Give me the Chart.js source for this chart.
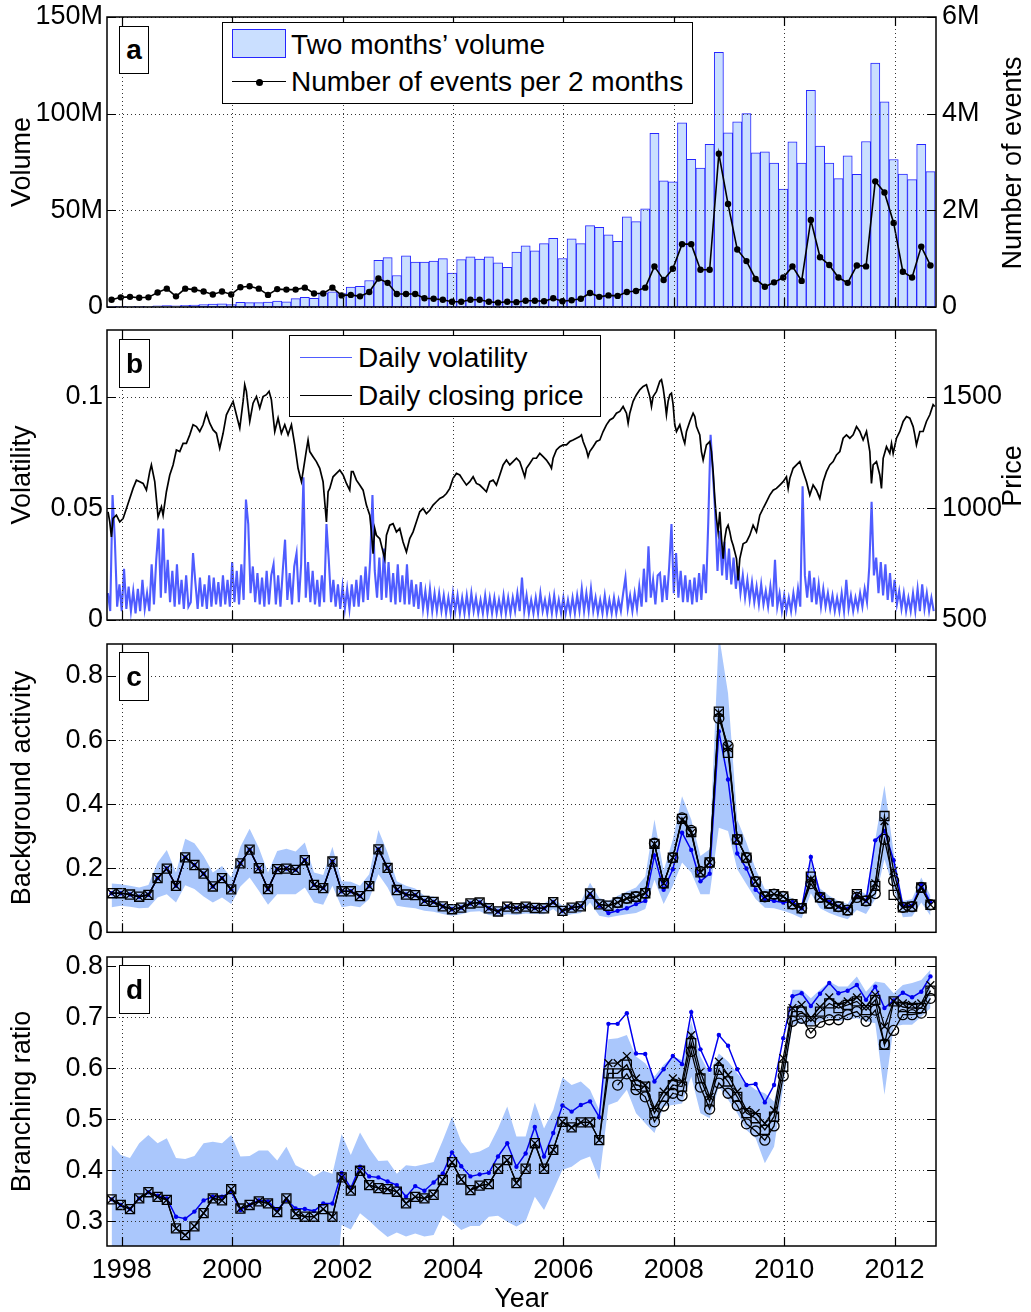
<!DOCTYPE html>
<html>
<head>
<meta charset="utf-8">
<title>Volume, volatility, background activity and branching ratio</title>
<script src="https://cdn.jsdelivr.net/npm/chart.js@4.4.1/dist/chart.umd.min.js"></script>
<style>
html,body{margin:0;padding:0;background:#fff}
#wrap{position:relative;width:1031px;height:1312px;overflow:hidden;font-family:"Liberation Sans",Arial,Helvetica,sans-serif;color:#000}
canvas{position:absolute;left:0}
.tag{position:absolute;left:119px;box-sizing:border-box;border:1.5px solid #000;background:#fff;font-weight:bold;font-size:28px;display:flex;align-items:center;justify-content:center;z-index:5}
.legbox{position:absolute;box-sizing:border-box;border:1.5px solid #000;background:#fff;z-index:5}
.lt{position:absolute;font-size:28px;line-height:28px;white-space:nowrap;z-index:6}
.ln{position:absolute;height:0;z-index:6}
.rt{position:absolute;font-size:27px;line-height:27px;white-space:nowrap;transform:translate(-50%,-50%) rotate(-90deg);z-index:6}
</style>
</head>
<body>
<div id="wrap">
<canvas id="cA" width="1031" height="320" style="top:0px"></canvas>
<canvas id="cB" width="1031" height="310" style="top:320px"></canvas>
<canvas id="cC" width="1031" height="310" style="top:630px"></canvas>
<canvas id="cD" width="1031" height="376" style="top:940px"></canvas>

<div class="legbox" style="left:222px;top:22px;width:471px;height:82px"></div>
<div style="position:absolute;left:232px;top:29px;width:54px;height:29px;box-sizing:border-box;background:#cadfff;border:1.3px solid #2626ff;z-index:6"></div>
<div class="lt" style="left:291px;top:31px">Two months’ volume</div>
<div class="ln" style="left:232px;top:81px;width:54px;border-top:1.5px solid #000"></div>
<div style="position:absolute;left:255.5px;top:78.5px;width:7px;height:7px;border-radius:50%;background:#000;z-index:7"></div>
<div class="lt" style="left:291px;top:68px">Number of events per 2 months</div>

<div class="legbox" style="left:289px;top:335px;width:312px;height:82px"></div>
<div class="ln" style="left:300px;top:356.5px;width:52px;border-top:1.3px solid #4f5cff"></div>
<div class="lt" style="left:358px;top:344px">Daily volatility</div>
<div class="ln" style="left:300px;top:394.5px;width:52px;border-top:1.3px solid #000"></div>
<div class="lt" style="left:358px;top:382px">Daily closing price</div>

<div class="tag" style="top:26px;width:30px;height:48px">a</div>
<div class="tag" style="top:339px;width:31px;height:49px">b</div>
<div class="tag" style="top:652px;width:30px;height:49px">c</div>
<div class="tag" style="top:965px;width:31px;height:49px">d</div>

<div class="rt" style="left:1012px;top:163px">Number of events</div>
<div class="rt" style="left:1012px;top:476px">Price</div>
</div>

<script>
// ---------------- DATA ----------------
const yearTicks = [1998, 2000, 2002, 2004, 2006, 2008, 2010, 2012];
const X_MIN = 1997.733, X_MAX = 2012.75;
const BIN_START = 1997.733, BIN_WIDTH = 1 / 6;   // two-month bins

// Panel a: two months' volume (millions) and number of events per 2 months (millions)
const volumeM = [0.3,0.3,0.4,0.3,0.4,0.6,0.7,0.6,0.9,1.0,1.2,1.5,1.6,1.3,2.4,2.3,2.3,2.5,3.1,2.7,4.3,5.0,4.5,7.3,7.8,7.0,10.3,10.7,13.7,24.1,25.5,16.3,26.5,23.2,23.2,23.7,25.0,17.5,24.5,26.0,24.8,26.0,22.9,20.5,28.4,
  31.7,29.1,32.8,35.5,25.1,35.2,32.8,42.1,41.2,37.3,34.0,46.6,44.2,50.8,89.8,65.3,64.8,95.3,76.4,71.8,84.1,131.7,90.1,95.8,100,79.7,80.2,74.5,61.0,85.4,74.5,112.1,83.2,74.4,66.4,78.2,68.6,85.6,126.2,106.1,76.3,68.8,65.9,84.2,70.0];
const eventsM = [0.15,0.20,0.21,0.19,0.20,0.30,0.38,0.22,0.38,0.36,0.32,0.26,0.32,0.26,0.41,0.43,0.38,0.25,0.37,0.36,0.36,0.40,0.28,0.28,0.40,0.24,0.25,0.22,0.31,0.59,0.50,0.27,0.27,0.27,0.18,0.17,0.15,0.11,0.11,0.15,0.15,0.11,0.09,0.11,0.10,
  0.13,0.13,0.12,0.18,0.12,0.14,0.17,0.29,0.21,0.24,0.23,0.31,0.33,0.40,0.84,0.56,0.79,1.30,1.30,0.77,0.77,3.17,2.13,1.19,0.95,0.58,0.42,0.51,0.61,0.84,0.54,1.80,1.03,0.87,0.61,0.50,0.86,0.84,2.60,2.37,1.74,0.73,0.61,1.25,0.86];

// Panel b: daily closing price
const priceYears = [1997.752,1997.783,1997.813,1997.843,1997.903,1997.964,1998.024,1998.085,1998.145,1998.205,1998.266,1998.326,1998.387,1998.447,1998.507,1998.537,1998.598,1998.658,1998.719,1998.749,1998.809,1998.870,1998.930,1998.990,1999.051,1999.111,1999.171,1999.232,1999.292,1999.353,1999.413,1999.473,1999.534,1999.594,1999.655,1999.715,1999.775,1999.836,1999.896,1999.956,2000.017,2000.077,2000.138,2000.198,2000.228,2000.258,2000.319,2000.379,2000.440,2000.500,2000.560,2000.621,2000.669,2000.711,2000.772,2000.832,2000.892,2000.953,2001.013,2001.074,2001.134,2001.194,2001.255,2001.285,2001.345,2001.375,2001.406,2001.466,2001.526,2001.587,2001.647,2001.677,2001.708,2001.738,2001.768,2001.828,2001.889,2001.949,2002.010,2002.070,2002.130,2002.160,2002.191,2002.251,2002.311,2002.372,2002.432,2002.493,2002.523,2002.553,2002.583,2002.613,2002.674,2002.734,2002.764,2002.795,2002.855,2002.915,2002.976,2003.036,2003.096,2003.157,2003.217,2003.278,2003.338,2003.398,2003.459,2003.519,2003.580,2003.640,2003.700,2003.761,2003.821,2003.882,2003.942,2004.002,2004.063,2004.123,2004.183,2004.244,2004.304,2004.365,2004.425,2004.485,2004.546,2004.606,2004.667,2004.727,2004.787,2004.848,2004.908,2004.969,2005.029,2005.089,2005.150,2005.210,
  2005.271,2005.301,2005.331,2005.391,2005.452,2005.512,2005.573,2005.633,2005.693,2005.754,2005.784,2005.814,2005.874,2005.935,2005.995,2006.056,2006.116,2006.176,2006.237,2006.297,2006.327,2006.358,2006.418,2006.448,2006.478,2006.539,2006.599,2006.660,2006.720,2006.780,2006.841,2006.901,2006.961,2007.022,2007.082,2007.143,2007.173,2007.203,2007.263,2007.324,2007.384,2007.445,2007.505,2007.565,2007.596,2007.626,2007.686,2007.747,2007.777,2007.807,2007.837,2007.867,2007.897,2007.928,2007.958,2007.988,2008.018,2008.049,2008.109,2008.169,2008.199,2008.230,2008.290,2008.350,2008.381,2008.411,2008.471,2008.501,2008.532,2008.592,2008.652,2008.682,2008.713,2008.743,2008.773,2008.803,2008.833,2008.864,2008.894,2008.924,2008.954,2008.984,2009.015,2009.045,2009.075,2009.136,2009.166,2009.196,2009.256,2009.317,2009.377,2009.437,2009.498,2009.558,2009.619,2009.679,2009.739,2009.800,2009.860,2009.921,2009.981,2010.041,2010.072,2010.102,2010.162,2010.223,2010.283,2010.343,2010.404,2010.464,2010.524,2010.585,2010.645,2010.706,2010.766,2010.826,2010.887,2010.947,2011.008,2011.068,2011.128,2011.189,2011.249,2011.310,2011.370,2011.430,2011.491,2011.551,2011.581,2011.611,2011.672,2011.732,2011.762,2011.793,2011.853,2011.913,2011.944,2011.974,2012.034,2012.095,2012.155,2012.215,2012.276,2012.336,2012.366,2012.396,2012.457,2012.517,2012.577,2012.638,2012.698,2012.728];
const price = [985,940,872,955,970,940,955,1000,1045,1090,1127,1120,1112,1082,1165,1195,1120,962,1007,970,1075,1150,1195,1262,1255,1292,1292,1330,1375,1367,1345,1375,1427,1382,1352,1337,1270,1337,1420,1450,1480,1420,1360,1480,1555,1525,1390,1472,1502,1450,1502,1510,1525,1487,1345,1405,1337,1375,1330,1375,1285,1180,1120,1165,1262,1307,1255,1232,1210,1180,1120,1030,940,1075,1090,1142,1157,1172,1150,1112,1082,1165,1165,1127,1105,1082,1015,970,895,797,910,880,865,805,775,880,925,932,895,910,850,805,865,895,940,985,1000,977,992,1015,1030,1045,1052,1067,1090,1135,1157,1150,1127,1105,1120,1142,1112,1105,1090,1075,1120,1127,1105,1150,1195,1217,1195,1210,1225,1210,
  1165,1142,1180,1202,1225,1225,1247,1232,1217,1195,1180,1225,1262,1277,1285,1285,1300,1307,1315,1322,1330,1300,1262,1232,1255,1277,1300,1307,1345,1375,1397,1405,1427,1435,1457,1427,1382,1427,1480,1510,1532,1547,1555,1502,1457,1502,1525,1570,1577,1540,1487,1420,1480,1510,1517,1465,1375,1345,1375,1315,1292,1345,1390,1427,1412,1367,1330,1255,1217,1285,1300,1255,1165,1045,955,895,985,865,775,865,910,925,895,857,835,775,677,775,842,850,880,925,895,970,1000,1030,1060,1082,1090,1105,1120,1142,1090,1135,1180,1195,1210,1165,1120,1060,1105,1082,1045,1120,1165,1195,1210,1240,1255,1315,1330,1315,1330,1367,1345,1307,1345,1255,1112,1195,1210,1150,1090,1225,1277,1247,1292,1247,1315,1345,1390,1412,1405,1367,1330,1285,1345,1345,1390,1420,1465,1457];

// Panel b: daily volatility, read every 1/24 year starting at VOL_START
const VOL_START = 1997.75, VOL_STEP = 1 / 24;
const volatility = [
  .012,.004,.056,.036,.006,.016,.004,.023,.005,.015,.004,.013,.003,.014,.004,.018,.005,.012,.004,.025,.007,.027,.041,.010,
  .041,.012,.027,.008,.022,.006,.025,.007,.018,.005,.020,.006,.008,.030,.017,.005,.019,.006,.016,.005,.020,.006,.019,.007,
  .017,.006,.020,.007,.018,.006,.026,.008,.022,.007,.025,.009,.054,.043,.012,.024,.008,.021,.007,.019,.006,.022,.007,.020,
  .025,.007,.020,.006,.022,.036,.009,.021,.007,.024,.030,.008,.025,.064,.010,.026,.008,.022,.007,.018,.006,.020,.008,.043,
  .027,.008,.018,.006,.016,.005,.015,.005,.014,.005,.016,.006,.018,.006,.020,.008,.024,.009,.027,.056,.022,.010,.028,.009,
  .032,.010,.026,.008,.021,.007,.025,.008,.020,.007,.025,.007,.018,.006,.016,.005,.017,.005,.013,.004,.014,.004,.012,.004,
  .012,.004,.011,.003,.010,.003,.012,.004,.011,.003,.010,.003,.011,.003,.012,.004,.010,.003,.009,.003,.011,.003,.010,.003,
  .010,.003,.009,.003,.011,.003,.010,.003,.010,.004,.012,.004,.019,.004,.011,.003,.009,.003,.010,.003,.012,.004,.009,.003,
  .010,.003,.011,.003,.009,.003,.010,.003,.009,.003,.010,.003,.011,.004,.014,.004,.012,.004,.014,.004,.010,.003,.009,.003,
  .011,.003,.009,.003,.010,.003,.009,.004,.012,.019,.005,.011,.004,.012,.005,.015,.006,.023,.008,.033,.010,.018,.007,.020,
  .021,.008,.020,.009,.024,.043,.012,.030,.010,.022,.008,.020,.008,.018,.007,.019,.008,.021,.009,.025,.012,.044,.083,.066,
  .048,.022,.040,.020,.035,.018,.032,.016,.028,.014,.024,.012,.020,.010,.018,.009,.017,.008,.015,.007,.016,.007,.013,.006,
  .015,.006,.027,.006,.012,.004,.011,.004,.010,.004,.012,.005,.014,.006,.060,.020,.010,.022,.008,.019,.007,.016,.006,.014,
  .006,.012,.005,.011,.004,.010,.004,.012,.004,.018,.005,.011,.004,.010,.005,.012,.006,.014,.008,.024,.053,.020,.028,.012,
  .026,.011,.025,.009,.021,.008,.018,.007,.013,.005,.012,.004,.010,.004,.012,.004,.014,.004,.016,.005,.012,.004,.010,.004];

// Panel c: background activity
const bgSquare = [.122,.122,.118,.111,.117,.169,.199,.145,.234,.210,.183,.143,.169,.134,.215,.258,.200,.135,.197,.199,.195,.225,.148,.138,.221,.128,.128,.113,.144,.259,.201,.132,.118,.116,.098,.095,.081,.072,.077,.090,.093,.075,.065,.080,.075,
  .080,.076,.075,.094,.067,.077,.081,.121,.087,.083,.093,.106,.111,.122,.276,.153,.233,.354,.313,.187,.218,.689,.560,.290,.233,.158,.111,.119,.112,.088,.075,.174,.109,.090,.080,.069,.119,.098,.145,.363,.117,.078,.080,.140,.086];
const bgCross = [.122,.122,.118,.111,.117,.169,.199,.145,.234,.210,.183,.143,.169,.134,.215,.258,.200,.135,.197,.199,.195,.225,.148,.138,.221,.128,.128,.113,.144,.259,.201,.132,.118,.116,.098,.095,.081,.072,.077,.090,.093,.075,.065,.080,.075,
  .080,.076,.075,.094,.067,.077,.081,.121,.087,.083,.093,.106,.111,.122,.276,.153,.233,.350,.310,.187,.218,.685,.575,.290,.233,.158,.111,.119,.112,.088,.075,.165,.109,.090,.080,.069,.117,.098,.153,.347,.192,.078,.080,.140,.086];
const bgCircle = [null,null,null,null,null,null,null,null,null,null,null,null,null,null,null,null,null,null,null,null,null,null,null,null,null,null,null,null,null,null,null,null,null,null,null,null,null,null,null,null,null,null,null,null,null,null,null,null,null,null,null,null,null,null,null,
  .093,.106,.111,.122,.278,.153,.233,.357,.318,.190,.218,.668,.582,.290,.233,.158,.111,.119,.112,.088,.075,.152,.109,.090,.080,.069,.109,.098,.121,.290,.161,.078,.080,.140,.086];
const bgBlue = [.122,.122,.118,.111,.117,.169,.199,.145,.234,.210,.183,.143,.169,.134,.215,.258,.200,.135,.197,.199,.195,.225,.148,.138,.221,.128,.128,.113,.144,.259,.201,.132,.118,.116,.098,.095,.081,.072,.077,.090,.093,.075,.065,.080,.075,
  .080,.076,.075,.094,.067,.077,.081,.119,.083,.060,.067,.075,.088,.098,.240,.133,.197,.311,.257,.159,.183,.627,.477,.246,.199,.133,.104,.098,.093,.095,.075,.235,.119,.095,.080,.073,.114,.098,.287,.316,.225,.083,.083,.150,.093];
const bgHigh = [.152,.150,.145,.140,.148,.218,.257,.187,.292,.278,.238,.187,.207,.171,.267,.323,.264,.187,.254,.261,.252,.280,.187,.179,.267,.159,.158,.145,.181,.319,.249,.159,.145,.137,.114,.112,.093,.085,.090,.104,.106,.088,.078,.088,.086,
  .093,.090,.090,.109,.083,.090,.095,.155,.107,.098,.114,.127,.140,.174,.352,.192,.290,.425,.352,.238,.259,.930,.746,.352,.280,.197,.135,.133,.124,.104,.088,.220,.137,.114,.098,.088,.135,.119,.290,.458,.249,.098,.104,.171,.114];
const bgLow = [.078,.083,.080,.075,.077,.109,.119,.093,.147,.135,.112,.093,.109,.088,.143,.171,.130,.086,.119,.119,.119,.140,.093,.086,.145,.078,.083,.078,.104,.181,.140,.083,.078,.075,.067,.064,.057,.052,.056,.064,.066,.054,.049,.056,.054,
  .059,.057,.056,.073,.049,.056,.060,.093,.052,.046,.052,.056,.060,.073,.164,.088,.145,.218,.187,.119,.119,.326,.316,.197,.150,.104,.077,.075,.067,.057,.044,.122,.075,.060,.049,.041,.070,.057,.104,.228,.135,.047,.049,.093,.052];

// Panel d: branching ratio
const brSquare = [.343,.332,.324,.345,.357,.348,.342,.286,.273,.290,.316,.345,.341,.363,.325,.332,.339,.335,.318,.345,.314,.309,.309,.324,.309,.386,.360,.399,.371,.365,.363,.358,.335,.348,.345,.352,.381,.416,.382,.361,.370,.373,.403,.420,.375,
  .403,.453,.403,.440,.495,.484,.494,.494,.459,.590,.590,.607,.567,.564,.512,.544,.567,.564,.649,.580,.535,.597,.574,.544,.512,.502,.479,.505,.603,.711,.711,.692,.711,.727,.718,.724,.731,.714,.734,.646,.731,.720,.718,.718,.752];
const brCross = [.343,.332,.324,.345,.357,.348,.342,.286,.273,.290,.316,.345,.341,.363,.325,.332,.339,.335,.318,.345,.314,.309,.309,.324,.309,.386,.360,.399,.371,.365,.363,.358,.335,.348,.345,.352,.381,.416,.382,.361,.370,.373,.403,.420,.375,
  .403,.453,.403,.440,.495,.484,.494,.494,.459,.610,.610,.624,.580,.567,.522,.554,.580,.574,.665,.593,.544,.613,.587,.554,.518,.512,.492,.518,.620,.718,.724,.698,.720,.739,.724,.731,.739,.721,.744,.682,.731,.727,.724,.727,.763];
const brCircle = [null,null,null,null,null,null,null,null,null,null,null,null,null,null,null,null,null,null,null,null,null,null,null,null,null,null,null,null,null,null,null,null,null,null,null,null,null,null,null,null,null,null,null,null,null,null,null,null,null,null,null,null,null,null,null,
  .567,.589,.558,.544,.495,.526,.551,.546,.633,.563,.520,.571,.551,.527,.491,.477,.459,.487,.585,.692,.698,.669,.690,.695,.695,.705,.711,.692,.714,.647,.674,.705,.705,.708,.737];
const brBlue = [.343,.332,.324,.345,.357,.350,.345,.309,.305,.319,.341,.348,.348,.358,.322,.332,.341,.339,.322,.342,.325,.324,.320,.335,.335,.395,.365,.407,.388,.386,.378,.371,.348,.369,.360,.376,.394,.435,.408,.388,.392,.395,.427,.453,.407,
  .433,.485,.427,.473,.527,.515,.528,.535,.504,.687,.687,.708,.629,.628,.574,.598,.624,.608,.710,.637,.597,.665,.644,.598,.567,.569,.533,.567,.659,.741,.747,.722,.746,.767,.747,.752,.763,.734,.760,.718,.733,.748,.739,.750,.780];
const brHigh = [.450,.430,.424,.453,.469,.453,.463,.424,.422,.428,.453,.456,.453,.469,.427,.428,.439,.439,.419,.446,.410,.401,.388,.399,.393,.471,.430,.474,.443,.418,.419,.393,.410,.408,.412,.416,.459,.505,.456,.433,.437,.446,.482,.525,.466,
  .466,.533,.482,.518,.582,.567,.574,.558,.518,.657,.659,.665,.623,.610,.584,.607,.623,.616,.692,.623,.590,.629,.613,.590,.571,.558,.551,.535,.613,.754,.754,.737,.754,.770,.760,.760,.780,.750,.770,.767,.747,.763,.767,.773,.793];
const brLow = [.1,.1,.1,.1,.1,.1,.1,.1,.1,.1,.1,.1,.1,.1,.1,.1,.1,.1,.1,.1,.1,.1,.1,.1,.1,
  .293,.284,.316,.301,.284,.269,.278,.270,.276,.270,.273,.312,.299,.283,.291,.291,.309,.311,.299,.290,
  .300,.348,.322,.361,.401,.407,.420,.427,.381,.528,.535,.558,.512,.492,.473,.525,.528,.531,.584,.512,.502,.564,.538,.512,.479,.463,.414,.446,.564,.685,.688,.682,.692,.698,.692,.695,.698,.692,.688,.548,.682,.685,.685,.701,.718];

// Axis tick values
const volTicks = [0, 50, 100, 150], evTicks = [0, 2, 4, 6];
const vTicks = [0, 0.05, 0.1], pTicks = [500, 1000, 1500];
const bgTicks = [0, 0.2, 0.4, 0.6, 0.8];
const brTicks = [0.3, 0.4, 0.5, 0.6, 0.7, 0.8];

// ---------------- CHARTS ----------------
Chart.defaults.font.family = '"Liberation Sans", Arial, Helvetica, sans-serif';
Chart.defaults.color = '#000';
Chart.defaults.animation = false;
const FONT = {size: 27};

const binX = volumeM.map((_, k) => BIN_START + (k + 0.5) * BIN_WIDTH);
const pts = (xs, ys) => xs.map((x, i) => ({x: x, y: ys[i]}));

const framePlugin = {
  id: 'frame',
  afterDatasetsDraw(chart) {
    const ctx = chart.ctx, a = chart.chartArea;
    const xs = chart.scales.x, yl = chart.scales.y, yr = chart.scales.y1 || chart.scales.y;
    const L = 9;
    const px = (s, v) => Math.round(s.getPixelForValue(v)) + 0.5;
    ctx.save();
    ctx.lineWidth = 1;
    ctx.strokeStyle = '#333';
    ctx.setLineDash([1, 3]);
    ctx.beginPath();
    xs.ticks.forEach(t => { const p = px(xs, t.value); ctx.moveTo(p, a.top); ctx.lineTo(p, a.bottom); });
    yl.ticks.forEach(t => { const p = px(yl, t.value); ctx.moveTo(a.left, p); ctx.lineTo(a.right, p); });
    ctx.stroke();
    ctx.setLineDash([]);
    ctx.strokeStyle = '#000';
    ctx.lineWidth = 1.2;
    ctx.beginPath();
    xs.ticks.forEach(t => { const p = px(xs, t.value); ctx.moveTo(p, a.bottom); ctx.lineTo(p, a.bottom - L); ctx.moveTo(p, a.top); ctx.lineTo(p, a.top + L); });
    yl.ticks.forEach(t => { const p = px(yl, t.value); ctx.moveTo(a.left, p); ctx.lineTo(a.left + L, p); });
    yr.ticks.forEach(t => { const p = px(yr, t.value); ctx.moveTo(a.right, p); ctx.lineTo(a.right - L, p); });
    ctx.stroke();
    ctx.lineWidth = 1.5;
    ctx.strokeRect(a.left, a.top, a.right - a.left, a.bottom - a.top);
    ctx.restore();
  }
};
Chart.register(framePlugin);

function xAxis(height, labels, title) {
  return {
    type: 'linear', min: X_MIN, max: X_MAX, offset: false,
    afterBuildTicks: s => { s.ticks = yearTicks.map(v => ({value: v})); },
    ticks: {display: labels, font: FONT, padding: 8, maxRotation: 0, autoSkip: false, callback: v => String(v)},
    grid: {display: false, drawTicks: false}, border: {display: false},
    title: title ? {display: true, text: title, font: FONT, padding: {top: 0, bottom: 0}} : {display: false},
    afterFit: s => { s.height = height; s.paddingLeft = 0; s.paddingRight = 0; }
  };
}
function yAxis(o) {
  return {
    type: 'linear', position: o.position, min: o.min, max: o.max,
    afterBuildTicks: s => { s.ticks = o.ticks.map(v => ({value: v})); },
    ticks: {font: FONT, padding: o.pad, autoSkip: false, callback: o.fmt},
    grid: {display: false, drawTicks: false}, border: {display: false},
    title: o.title ? {display: true, text: o.title, font: FONT, padding: {top: 6, bottom: 0}} : {display: false},
    afterFit: s => { s.width = o.width; s.paddingTop = 0; s.paddingBottom = 0; }
  };
}
const baseOpts = (pad) => ({
  responsive: false, animation: false, events: [],
  layout: {padding: pad},
  plugins: {legend: {display: false}, tooltip: {enabled: false}}
});
const mFmt = v => v === 0 ? '0' : v + 'M';
const nFmt = v => String(v);

// ---- Panel a ----
new Chart(document.getElementById('cA'), {
  type: 'bar',
  data: {datasets: [
    {type: 'line', label: 'Number of events per 2 months', yAxisID: 'y1', data: pts(binX, eventsM),
     borderColor: '#000', borderWidth: 1.6, pointRadius: 3.2, pointBackgroundColor: '#000', pointBorderWidth: 0, order: 0},
    {type: 'bar', label: 'Two months’ volume', yAxisID: 'y', data: pts(binX, volumeM),
     backgroundColor: '#cadfff', borderColor: '#2626ff', borderWidth: 1, borderSkipped: false,
     barPercentage: 1, categoryPercentage: 1, order: 1}
  ]},
  options: Object.assign(baseOpts({left: 0, right: 0, top: 17, bottom: 0}), {
    scales: {
      x: xAxis(13, false),
      y: yAxis({position: 'left', min: 0, max: 150, ticks: volTicks, fmt: mFmt, title: 'Volume', width: 107, pad: 4}),
      y1: yAxis({position: 'right', min: 0, max: 6, ticks: evTicks, fmt: mFmt, title: null, width: 95, pad: 6})
    }
  })
});

// ---- Panel b ----
new Chart(document.getElementById('cB'), {
  type: 'line',
  data: {datasets: [
    {label: 'Daily closing price', yAxisID: 'y1', data: pts(priceYears, price),
     borderColor: '#000', borderWidth: 1.7, pointRadius: 0, order: 0},
    {label: 'Daily volatility', yAxisID: 'y', data: volatility.map((v, i) => ({x: VOL_START + i * VOL_STEP, y: v})),
     borderColor: '#4f5cff', borderWidth: 2.1, pointRadius: 0, order: 1}
  ]},
  options: Object.assign(baseOpts({left: 0, right: 0, top: 10, bottom: 0}), {
    scales: {
      x: xAxis(10, false),
      y: yAxis({position: 'left', min: 0, max: 0.13, ticks: vTicks, fmt: nFmt, title: 'Volatility', width: 107, pad: 4}),
      y1: yAxis({position: 'right', min: 500, max: 1800, ticks: pTicks, fmt: nFmt, title: null, width: 95, pad: 6})
    }
  })
});

// ---- Panels c and d ----
function estimateDatasets(low, high, blue, circle, cross, square) {
  return [
    {label: 'band low', data: pts(binX, low), borderColor: 'rgba(0,0,0,0)', borderWidth: 0, pointRadius: 0, fill: false, order: 10},
    {label: 'band high', data: pts(binX, high), borderColor: 'rgba(0,0,0,0)', borderWidth: 0, pointRadius: 0,
     fill: '-1', backgroundColor: '#aac7fc', order: 9},
    {label: 'blue', data: pts(binX, blue), borderColor: '#0000f0', borderWidth: 1.5, pointRadius: 2.2,
     pointBackgroundColor: '#0000f0', pointBorderWidth: 0, order: 5},
    {label: 'circle', data: pts(binX, circle), borderColor: '#000', borderWidth: 1.3, pointStyle: 'circle', pointRadius: 5,
     pointBorderColor: '#000', pointBackgroundColor: 'rgba(0,0,0,0)', pointBorderWidth: 1.3, order: 3},
    {label: 'cross', data: pts(binX, cross), borderColor: '#000', borderWidth: 1.3, pointStyle: 'crossRot', pointRadius: 5.5,
     pointBorderColor: '#000', pointBorderWidth: 1.3, order: 2},
    {label: 'square', data: pts(binX, square), borderColor: '#000', borderWidth: 1.3, pointStyle: 'rect', pointRadius: 6.4,
     pointBorderColor: '#000', pointBackgroundColor: 'rgba(0,0,0,0)', pointBorderWidth: 1.3, order: 1}
  ];
}

new Chart(document.getElementById('cC'), {
  type: 'line',
  data: {datasets: estimateDatasets(bgLow, bgHigh, bgBlue, bgCircle, bgCross, bgSquare)},
  options: Object.assign(baseOpts({left: 0, right: 95, top: 14, bottom: 0}), {
    scales: {
      x: xAxis(7, false),
      y: yAxis({position: 'left', min: 0, max: 0.9, ticks: bgTicks, fmt: nFmt, title: 'Background activity', width: 107, pad: 4})
    }
  })
});

new Chart(document.getElementById('cD'), {
  type: 'line',
  data: {datasets: estimateDatasets(brLow, brHigh, brBlue, brCircle, brCross, brSquare)},
  options: Object.assign(baseOpts({left: 0, right: 95, top: 17, bottom: 0}), {
    scales: {
      x: xAxis(70, true, 'Year'),
      y: yAxis({position: 'left', min: 0.2516, max: 0.818, ticks: brTicks, fmt: nFmt, title: 'Branching ratio', width: 107, pad: 4})
    }
  })
});
</script>
</body>
</html>
